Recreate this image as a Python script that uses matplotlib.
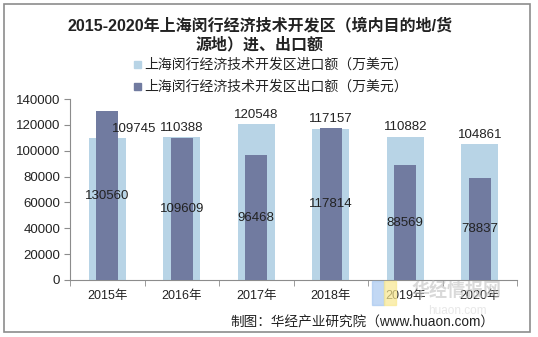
import matplotlib
matplotlib.use("Agg")
import matplotlib.pyplot as plt
from matplotlib.patches import Rectangle

plt.rcParams['font.family'] = ['Liberation Sans', 'Noto Sans CJK SC', 'DejaVu Sans']

years = ['2015年', '2016年', '2017年', '2018年', '2019年', '2020年']
imports = [109745, 110388, 120548, 117157, 110882, 104861]
exports = [130560, 109609, 96468, 117814, 88569, 78837]
yticks = [0, 20000, 40000, 60000, 80000, 100000, 120000, 140000]

c_imp = '#B8D4E6'
c_exp = '#717BA0'

fig = plt.figure(figsize=(5.38, 3.37), dpi=100)
fig.patches.append(Rectangle((4 / 538, 5 / 337), 526 / 538, 328 / 337, transform=fig.transFigure,
                             fill=False, edgecolor='#8c8c8c', linewidth=1.2))

ax = fig.add_axes([70 / 538, 1 - 280 / 337, 447 / 538, 181 / 337])
x = list(range(len(years)))
ax.bar(x, imports, width=0.5, color=c_imp, zorder=2)
ax.bar(x, exports, width=0.3, color=c_exp, zorder=3)

for i, v in enumerate(imports):
    if i == 0:
        ax.text(i + 0.36, v + 2500, str(v), ha='center', va='bottom', fontsize=9.5, color='#222222', zorder=4)
    else:
        ax.text(i, v + 2500, str(v), ha='center', va='bottom', fontsize=9.5, color='#222222', zorder=4)
for i, v in enumerate(exports):
    ax.text(i, v / 2, str(v), ha='center', va='center', fontsize=9.5, color='#222222', zorder=4)

ax.set_xlim(-0.5, len(years) - 0.5)
ax.set_ylim(0, 140000)
ax.set_yticks(yticks)
ax.set_yticklabels([str(t) for t in yticks], fontsize=9.5, color='#222222')
ax.set_xticks(x)
ax.set_xticklabels(years, fontsize=9, color='#222222')
ax.tick_params(axis='x', length=0, pad=7)
ax.set_xticks([i - 0.5 for i in range(len(years) + 1)], minor=True)
ax.tick_params(axis='x', which='minor', length=4, color='#8c8c8c')
ax.tick_params(axis='y', length=4, color='#8c8c8c', pad=3)
for s in ['top', 'right']:
    ax.spines[s].set_visible(False)
for s in ['left', 'bottom']:
    ax.spines[s].set_color('#8c8c8c')

fig.text(260 / 538, 1 - 25 / 337, '2015-2020年上海闵行经济技术开发区（境内目的地/货', ha='center', va='center',
         fontsize=11.5, fontweight='bold', color='#222222')
fig.text(260 / 538, 1 - 45 / 337, '源地）进、出口额', ha='center', va='center',
         fontsize=11.5, fontweight='bold', color='#222222')

legend_items = [(c_imp, '上海闵行经济技术开发区进口额（万美元）', 65),
                (c_exp, '上海闵行经济技术开发区出口额（万美元）', 87)]
for col, lab, yy in legend_items:
    fig.patches.append(Rectangle((134 / 538, 1 - (yy + 3) / 337), 7 / 538, 7 / 337,
                                 transform=fig.transFigure, color=col))
    fig.text(144 / 538, 1 - yy / 337, lab, ha='left', va='center', fontsize=10, color='#222222')

# faint site watermark
fig.patches.append(Rectangle((372 / 538, 1 - 305 / 337), 12 / 538, 24 / 337,
                             transform=fig.transFigure, color='#a8c8f0', alpha=0.7))
fig.patches.append(Rectangle((384 / 538, 1 - 305 / 337), 12 / 538, 24 / 337,
                             transform=fig.transFigure, color='#f8e890', alpha=0.7))
fig.text(457 / 538, 1 - 292 / 337, '华经情报网', ha='center', va='center', fontsize=13,
         fontweight='bold', color='#c0c0c0', alpha=0.6)
fig.text(457 / 538, 1 - 311 / 337, 'huaon.com', ha='center', va='center', fontsize=8.5,
         color='#d8d8d8', alpha=0.6)
fig.text(494 / 538, 1 - 322 / 337, '制图：华经产业研究院（www.huaon.com）', ha='right', va='center',
         fontsize=9.8, color='#222222')

fig.savefig('out.png', dpi=100)
